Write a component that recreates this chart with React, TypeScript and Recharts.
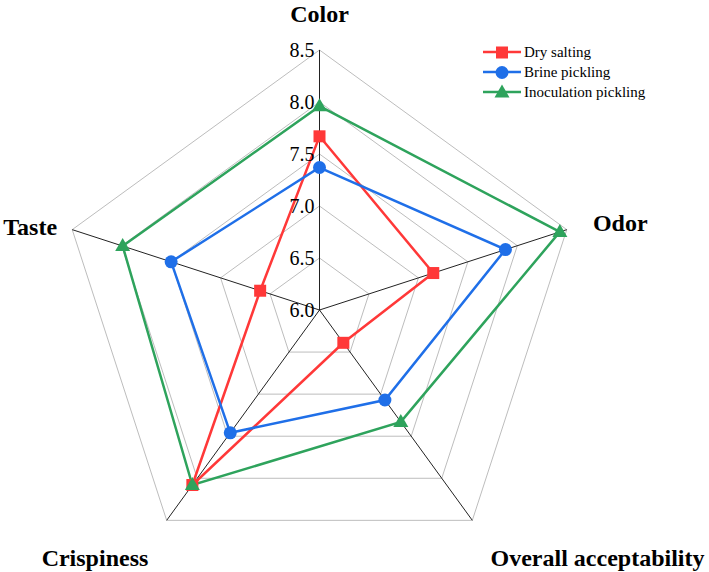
import {
  RadarChart,
  Radar,
  PolarGrid,
  PolarAngleAxis,
  PolarRadiusAxis,
  Legend,
} from "recharts";

const attributes = ["Color", "Odor", "Overall acceptability", "Crispiness", "Taste"];
const drySalting = [7.67, 7.15, 6.39, 8.08, 6.6];
const brinePickling = [7.37, 7.88, 7.07, 7.46, 7.5];
const inoculationPickling = [7.96, 8.43, 7.33, 8.08, 7.99];
const radiusTicks = [6.0, 6.5, 7.0, 7.5, 8.0, 8.5];

const data = attributes.map((attribute, i) => ({
  attribute,
  dry: drySalting[i],
  brine: brinePickling[i],
  inoc: inoculationPickling[i],
}));

const FONT = "'Liberation Serif', 'Times New Roman', serif";

const series = [
  { key: "dry", name: "Dry salting", color: "#FF3838", shape: "square" },
  { key: "brine", name: "Brine pickling", color: "#1F6FE8", shape: "circle" },
  { key: "inoc", name: "Inoculation pickling", color: "#2EA35C", shape: "triangle" },
];

function Marker({ shape, cx, cy, color }: { shape: string; cx: number; cy: number; color: string }) {
  if (shape === "square") return <rect x={cx - 6} y={cy - 6} width={12} height={12} fill={color} />;
  if (shape === "circle") return <circle cx={cx} cy={cy} r={6.5} fill={color} />;
  return <polygon points={`${cx},${cy - 8} ${cx + 7.5},${cy + 5} ${cx - 7.5},${cy + 5}`} fill={color} />;
}

// label placement around the outer polygon
const labelOffsets: Record<string, { dx: number; dy: number; anchor: string }> = {
  Color: { dx: 0, dy: -20, anchor: "middle" },
  Odor: { dx: 18.5, dy: 4, anchor: "start" },
  "Overall acceptability": { dx: 120.5, dy: 39, anchor: "middle" },
  Crispiness: { dx: -67, dy: 39, anchor: "middle" },
  Taste: { dx: -7.5, dy: 8, anchor: "end" },
};

function AngleTick(props: any) {
  const { x, y, payload } = props;
  const o = labelOffsets[payload.value] || { dx: 0, dy: 0, anchor: "middle" };
  return (
    <text
      x={x + o.dx}
      y={y + o.dy}
      textAnchor={o.anchor}
      fontFamily={FONT}
      fontWeight="bold"
      fontSize={24}
      fill="#000"
    >
      {payload.value}
    </text>
  );
}

function RadiusTick(props: any) {
  const { x, y, payload } = props;
  return (
    <text x={x - 5} y={y + 7} textAnchor="end" fontFamily={FONT} fontSize={20} fill="#000">
      {Number(payload.value).toFixed(1)}
    </text>
  );
}

function LegendContent(props: any) {
  const payload: any[] = props.payload || [];
  return (
    <div style={{ fontFamily: FONT, fontSize: 15, color: "#000" }}>
      {series.map((s) => {
        const entry = payload.find((e) => e.dataKey === s.key);
        if (!entry) return null;
        return (
          <div key={s.key} style={{ display: "flex", alignItems: "center", height: 20 }}>
            <svg width={38} height={16} style={{ marginRight: 3 }}>
              <line x1={0} y1={8} x2={38} y2={8} stroke={entry.color} strokeWidth={2.5} />
              <Marker shape={s.shape} cx={19} cy={8.5} color={entry.color} />
            </svg>
            <span>{entry.value}</span>
          </div>
        );
      })}
    </div>
  );
}

export default function App() {
  return (
    <div style={{ width: 709, height: 572, position: "absolute", top: 0, left: 0 }}>
      <RadarChart
        width={709}
        height={572}
        data={data}
        cx={319.5}
        cy={310}
        outerRadius={260}
        margin={{ top: 0, right: 0, bottom: 0, left: 0 }}
      >
        <PolarGrid stroke="#bdbdbd" strokeWidth={1} radialLines={false} />
        <PolarGrid stroke="#222" strokeWidth={1} polarRadius={[]} />
        <PolarAngleAxis dataKey="attribute" tick={AngleTick} tickLine={false} axisLine={false} />
        {series.map((s) => (
          <Radar
            key={s.key}
            dataKey={s.key}
            name={s.name}
            stroke={s.color}
            strokeWidth={2.5}
            fill="none"
            fillOpacity={0}
            isAnimationActive={false}
            dot={(p: any) => (
              <Marker key={`${s.key}-${p.index}`} shape={s.shape} cx={p.cx} cy={p.cy} color={s.color} />
            )}
          />
        ))}
        <PolarRadiusAxis
          angle={90}
          type="number"
          domain={[6, 8.5]}
          allowDecimals
          allowDataOverflow
          tickCount={6}
          ticks={radiusTicks}
          tick={RadiusTick}
          tickLine={false}
          axisLine={{ stroke: "#222" }}
        />
        <Legend
          layout="vertical"
          align="right"
          verticalAlign="middle"
          content={LegendContent}
          wrapperStyle={{ top: 42, left: 483, right: "auto", width: 210 }}
        />
      </RadarChart>
    </div>
  );
}
